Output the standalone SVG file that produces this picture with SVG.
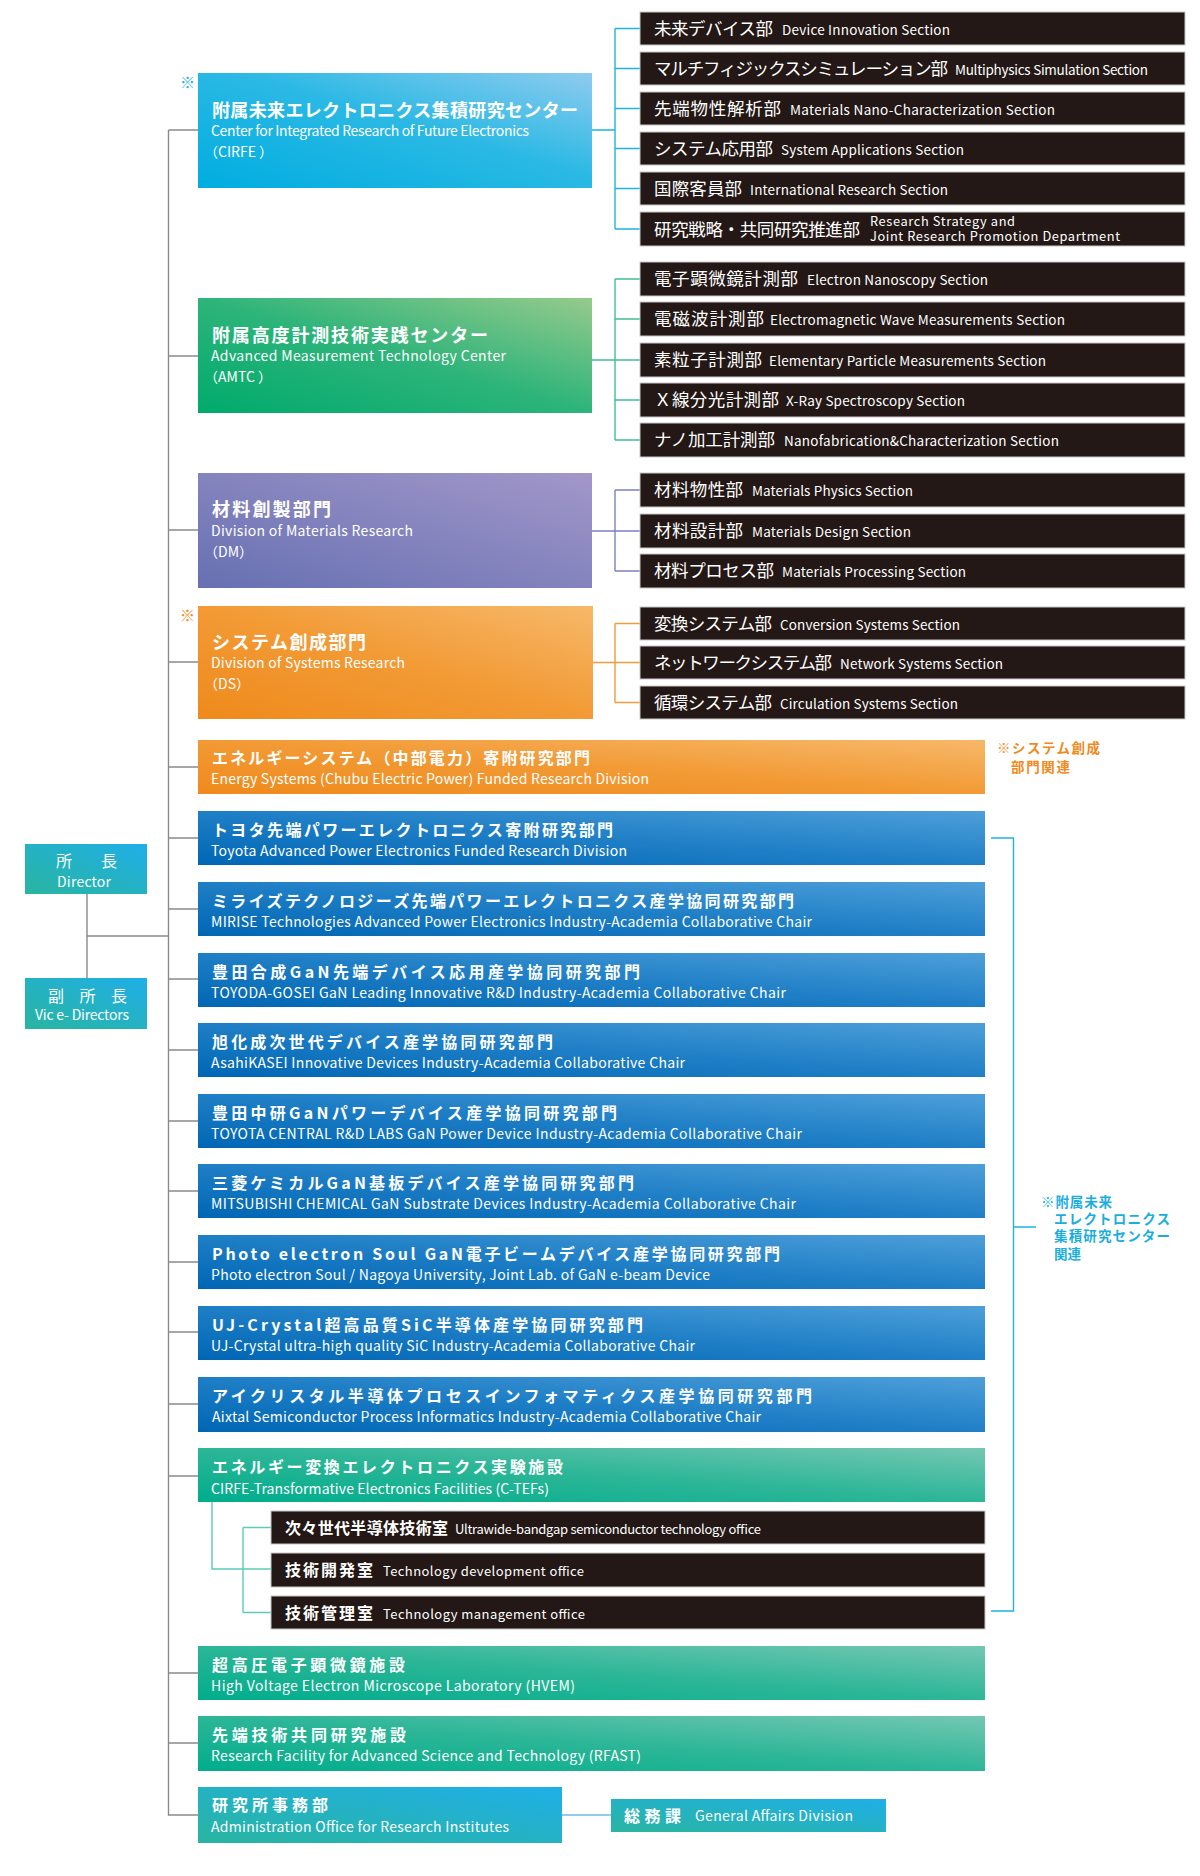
<svg xmlns="http://www.w3.org/2000/svg" width="1200" height="1876" viewBox="0 0 1200 1876">
<defs>
<linearGradient id="gCirfe" x1="0" y1="1" x2="1" y2="0"><stop offset="0" stop-color="#00ade0"/><stop offset="0.55" stop-color="#2bb9e4"/><stop offset="1" stop-color="#8fcbef"/></linearGradient>
<linearGradient id="gAmtc" x1="0" y1="1" x2="1" y2="0"><stop offset="0" stop-color="#00aa6c"/><stop offset="0.5" stop-color="#2db47a"/><stop offset="1" stop-color="#97ca8c"/></linearGradient>
<linearGradient id="gDm" x1="0" y1="1" x2="1" y2="0"><stop offset="0" stop-color="#6670b2"/><stop offset="1" stop-color="#a297c9"/></linearGradient>
<linearGradient id="gDs" x1="0" y1="1" x2="1" y2="0"><stop offset="0" stop-color="#ef8a1c"/><stop offset="0.5" stop-color="#f29a35"/><stop offset="1" stop-color="#f7b869"/></linearGradient>
<linearGradient id="gBlue" x1="0" y1="1" x2="1" y2="0"><stop offset="0" stop-color="#0066b4"/><stop offset="0.5" stop-color="#1f7fc6"/><stop offset="1" stop-color="#4e9fd9"/></linearGradient>
<linearGradient id="gGreen" x1="0" y1="1" x2="1" y2="0"><stop offset="0" stop-color="#00ad8c"/><stop offset="0.5" stop-color="#2cb697"/><stop offset="1" stop-color="#74c7b3"/></linearGradient>
<linearGradient id="gTeal" x1="0" y1="1" x2="1" y2="0"><stop offset="0" stop-color="#29b5a0"/><stop offset="1" stop-color="#1fafe8"/></linearGradient>
</defs>
<style>
text{font-family:"Noto Sans CJK JP","Noto Sans",sans-serif;fill:#fff}
.sec{fill:#231815;stroke:#c8c8c8;stroke-width:1}
.title{font-size:18px;font-weight:700}
.lt{font-size:16px;font-weight:700}
.en{font-size:14px}
.sjp{font-size:17.5px;font-weight:400}
.sen{font-size:13.5px}
.sen2{font-size:12.8px}
.oen{font-size:13px}
.ln{fill:none;stroke-width:1.4}
.gray{stroke:#8a8a8a}
.cy{stroke:#1fb3e4}
.gr{stroke:#40bf90}
.pu{stroke:#7d80c0}
.or{stroke:#f39a3a}
.mint{stroke:#5ccbb8}
.lb{stroke:#6bbde3}
.note{font-size:13.5px;font-weight:700}
.mark{font-size:15px}
</style>

<g id="connectors">
<path class="ln gray" d="M168.5 130 V1815 H198"/>
<path class="ln gray" d="M168.5 130 H198 M168.5 356 H198 M168.5 530 H198 M168.5 662 H198 M168.5 767 H198 M168.5 838 H198 M168.5 909 H198 M168.5 979 H198 M168.5 1050 H198 M168.5 1121 H198 M168.5 1191 H198 M168.5 1262 H198 M168.5 1332 H198 M168.5 1404 H198 M168.5 1476 H198 M168.5 1673 H198 M168.5 1743 H198"/>
<path class="ln gray" d="M87 894 V978 M87 936 H168.5"/>
<path class="ln cy" d="M592 130 H615 M615 28.5 V229 M615 28.5 H640 M615 68.5 H640 M615 108.5 H640 M615 148.5 H640 M615 188.5 H640 M615 229 H640"/>
<path class="ln gr" d="M592 360 H615 M615 279 V440 M615 279 H640 M615 319 H640 M615 360 H640 M615 400 H640 M615 440 H640"/>
<path class="ln pu" d="M592 531 H615 M615 490 V571 M615 490 H640 M615 531 H640 M615 571 H640"/>
<path class="ln or" d="M593 662.5 H615 M615 623.5 V702.5 M615 623.5 H640 M615 662.5 H640 M615 702.5 H640"/>
<path class="ln mint" d="M212 1502 V1569 H271 M243 1527.5 V1612.5 M243 1527.5 H271 M243 1612.5 H271"/>
<path class="ln cy" d="M991 838 H1013.5 V1611 H991 M1013.5 1227 H1036"/>
<path class="ln lb" d="M562 1815 H611"/>
</g>

<g id="director">
<rect x="25" y="844" width="122" height="50" fill="url(#gTeal)"/>
<text x="56" y="867" font-size="16" textLength="61" lengthAdjust="spacing">所　長</text>
<text x="57" y="887" class="en" textLength="54" lengthAdjust="spacing">Director</text>
</g>
<g id="vice-directors">
<rect x="25" y="978" width="122" height="51" fill="url(#gTeal)"/>
<text x="48" y="1002" font-size="16" textLength="79" lengthAdjust="spacing">副 所 長</text>
<text x="35" y="1020" class="en" textLength="94" lengthAdjust="spacing">Vic e- Directors</text>
</g>

<g id="cirfe">
<text x="180" y="88" class="mark" style="fill:#1fb3e4">※</text>
<rect x="198" y="73" width="394" height="115" fill="url(#gCirfe)"/>
<text x="212" y="117" class="title" textLength="366" lengthAdjust="spacing">附属未来エレクトロニクス集積研究センター</text>
<text x="211" y="136" class="en" textLength="318" lengthAdjust="spacing">Center for Integrated Research of Future Electronics</text>
<text x="204" y="157" class="en">（CIRFE ）</text>
</g>
<g id="cirfe-sections">
<rect class="sec" x="640" y="12" width="545" height="33"/>
<text x="654" y="35" class="sjp" textLength="119" lengthAdjust="spacing">未来デバイス部</text>
<text x="782" y="35" class="sen" textLength="168" lengthAdjust="spacing">Device Innovation Section</text>
<rect class="sec" x="640" y="52" width="545" height="33"/>
<text x="654" y="75" class="sjp" textLength="294" lengthAdjust="spacing">マルチフィジックスシミュレーション部</text>
<text x="955" y="75" class="sen" textLength="193" lengthAdjust="spacing">Multiphysics Simulation Section</text>
<rect class="sec" x="640" y="92" width="545" height="33"/>
<text x="654" y="115" class="sjp" textLength="127" lengthAdjust="spacing">先端物性解析部</text>
<text x="790" y="115" class="sen" textLength="265" lengthAdjust="spacing">Materials Nano-Characterization Section</text>
<rect class="sec" x="640" y="132" width="545" height="33"/>
<text x="654" y="155" class="sjp" textLength="119" lengthAdjust="spacing">システム応用部</text>
<text x="781" y="155" class="sen" textLength="183" lengthAdjust="spacing">System Applications Section</text>
<rect class="sec" x="640" y="172" width="545" height="33"/>
<text x="654" y="195" class="sjp" textLength="88" lengthAdjust="spacing">国際客員部</text>
<text x="750" y="195" class="sen" textLength="198" lengthAdjust="spacing">International Research Section</text>
<rect class="sec" x="640" y="212" width="545" height="34"/>
<text x="654" y="236" class="sjp" textLength="206" lengthAdjust="spacing">研究戦略・共同研究推進部</text>
<text x="870" y="226" class="sen2" textLength="145" lengthAdjust="spacing">Research Strategy and</text>
<text x="870" y="241" class="sen2" textLength="250" lengthAdjust="spacing">Joint Research Promotion Department</text>
</g>

<g id="amtc">
<rect x="198" y="298" width="394" height="115" fill="url(#gAmtc)"/>
<text x="212" y="342" class="title" textLength="276" lengthAdjust="spacing">附属高度計測技術実践センター</text>
<text x="211" y="361" class="en" textLength="295" lengthAdjust="spacing">Advanced Measurement Technology Center</text>
<text x="204" y="382" class="en">（AMTC ）</text>
</g>
<g id="amtc-sections">
<rect class="sec" x="640" y="262" width="545" height="34"/>
<text x="654" y="285" class="sjp" textLength="144" lengthAdjust="spacing">電子顕微鏡計測部</text>
<text x="807" y="285" class="sen" textLength="181" lengthAdjust="spacing">Electron Nanoscopy Section</text>
<rect class="sec" x="640" y="302" width="545" height="34"/>
<text x="654" y="325" class="sjp" textLength="110" lengthAdjust="spacing">電磁波計測部</text>
<text x="770" y="325" class="sen" textLength="295" lengthAdjust="spacing">Electromagnetic Wave Measurements Section</text>
<rect class="sec" x="640" y="343" width="545" height="34"/>
<text x="654" y="366" class="sjp" textLength="108" lengthAdjust="spacing">素粒子計測部</text>
<text x="769" y="366" class="sen" textLength="277" lengthAdjust="spacing">Elementary Particle Measurements Section</text>
<rect class="sec" x="640" y="383" width="545" height="34"/>
<text x="654" y="406" class="sjp" textLength="125" lengthAdjust="spacing">Ｘ線分光計測部</text>
<text x="786" y="406" class="sen" textLength="179" lengthAdjust="spacing">X-Ray Spectroscopy Section</text>
<rect class="sec" x="640" y="423" width="545" height="34"/>
<text x="654" y="446" class="sjp" textLength="121" lengthAdjust="spacing">ナノ加工計測部</text>
<text x="784" y="446" class="sen" textLength="275" lengthAdjust="spacing">Nanofabrication&amp;Characterization Section</text>
</g>

<g id="dm">
<rect x="198" y="473" width="394" height="115" fill="url(#gDm)"/>
<text x="212" y="516" class="title" textLength="119" lengthAdjust="spacing">材料創製部門</text>
<text x="211" y="536" class="en" textLength="202" lengthAdjust="spacing">Division of Materials Research</text>
<text x="204" y="557" class="en">（DM）</text>
</g>
<g id="dm-sections">
<rect class="sec" x="640" y="473" width="545" height="34"/>
<text x="654" y="496" class="sjp" textLength="89" lengthAdjust="spacing">材料物性部</text>
<text x="752" y="496" class="sen" textLength="161" lengthAdjust="spacing">Materials Physics Section</text>
<rect class="sec" x="640" y="514" width="545" height="34"/>
<text x="654" y="537" class="sjp" textLength="89" lengthAdjust="spacing">材料設計部</text>
<text x="752" y="537" class="sen" textLength="159" lengthAdjust="spacing">Materials Design Section</text>
<rect class="sec" x="640" y="554" width="545" height="34"/>
<text x="654" y="577" class="sjp" textLength="120" lengthAdjust="spacing">材料プロセス部</text>
<text x="782" y="577" class="sen" textLength="184" lengthAdjust="spacing">Materials Processing Section</text>
</g>

<g id="ds">
<text x="180" y="621" class="mark" style="fill:#f08a1c">※</text>
<rect x="198" y="606" width="395" height="113" fill="url(#gDs)"/>
<text x="212" y="649" class="title" textLength="154" lengthAdjust="spacing">システム創成部門</text>
<text x="211" y="668" class="en" textLength="194" lengthAdjust="spacing">Division of Systems Research</text>
<text x="204" y="689" class="en">（DS）</text>
</g>
<g id="ds-sections">
<rect class="sec" x="640" y="607" width="545" height="33"/>
<text x="654" y="630" class="sjp" textLength="118" lengthAdjust="spacing">変換システム部</text>
<text x="780" y="630" class="sen" textLength="180" lengthAdjust="spacing">Conversion Systems Section</text>
<rect class="sec" x="640" y="646" width="545" height="33"/>
<text x="654" y="669" class="sjp" textLength="178" lengthAdjust="spacing">ネットワークシステム部</text>
<text x="840" y="669" class="sen" textLength="163" lengthAdjust="spacing">Network Systems Section</text>
<rect class="sec" x="640" y="686" width="545" height="33"/>
<text x="654" y="709" class="sjp" textLength="118" lengthAdjust="spacing">循環システム部</text>
<text x="780" y="709" class="sen" textLength="178" lengthAdjust="spacing">Circulation Systems Section</text>
</g>

<g id="energy-systems">
<rect x="198" y="740" width="787" height="54" fill="url(#gDs)"/>
<text x="212" y="764" class="lt" textLength="378" lengthAdjust="spacing">エネルギーシステム（中部電力）寄附研究部門</text>
<text x="211" y="784" class="en" textLength="438" lengthAdjust="spacing">Energy Systems (Chubu Electric Power) Funded Research Division</text>
</g>
<g id="note-ds">
<text x="997" y="753" class="note" style="fill:#f08a1c" textLength="103" lengthAdjust="spacing">※システム創成</text>
<text x="1011" y="772" class="note" style="fill:#f08a1c" textLength="59" lengthAdjust="spacing">部門関連</text>
</g>

<g id="toyota">
<rect x="198" y="811" width="787" height="54" fill="url(#gBlue)"/>
<text x="212" y="836" class="lt" textLength="401" lengthAdjust="spacing">トヨタ先端パワーエレクトロニクス寄附研究部門</text>
<text x="211" y="856" class="en" textLength="416" lengthAdjust="spacing">Toyota Advanced Power Electronics Funded Research Division</text>
</g>
<g id="mirise">
<rect x="198" y="882" width="787" height="54" fill="url(#gBlue)"/>
<text x="212" y="907" class="lt" textLength="582" lengthAdjust="spacing">ミライズテクノロジーズ先端パワーエレクトロニクス産学協同研究部門</text>
<text x="211" y="927" class="en" textLength="601" lengthAdjust="spacing">MIRISE Technologies Advanced Power Electronics Industry-Academia Collaborative Chair</text>
</g>
<g id="toyoda-gosei">
<rect x="198" y="953" width="787" height="54" fill="url(#gBlue)"/>
<text x="212" y="978" class="lt" textLength="428" lengthAdjust="spacing">豊田合成GaN先端デバイス応用産学協同研究部門</text>
<text x="211" y="998" class="en" textLength="575" lengthAdjust="spacing">TOYODA-GOSEI GaN Leading Innovative R&amp;D Industry-Academia Collaborative Chair</text>
</g>
<g id="asahikasei">
<rect x="198" y="1023" width="787" height="54" fill="url(#gBlue)"/>
<text x="212" y="1048" class="lt" textLength="341" lengthAdjust="spacing">旭化成次世代デバイス産学協同研究部門</text>
<text x="211" y="1068" class="en" textLength="474" lengthAdjust="spacing">AsahiKASEI Innovative Devices Industry-Academia Collaborative Chair</text>
</g>
<g id="toyota-central">
<rect x="198" y="1094" width="787" height="54" fill="url(#gBlue)"/>
<text x="212" y="1119" class="lt" textLength="405" lengthAdjust="spacing">豊田中研GaNパワーデバイス産学協同研究部門</text>
<text x="211" y="1139" class="en" textLength="591" lengthAdjust="spacing">TOYOTA CENTRAL R&amp;D LABS GaN Power Device Industry-Academia Collaborative Chair</text>
</g>
<g id="mitsubishi">
<rect x="198" y="1164" width="787" height="54" fill="url(#gBlue)"/>
<text x="212" y="1189" class="lt" textLength="422" lengthAdjust="spacing">三菱ケミカルGaN基板デバイス産学協同研究部門</text>
<text x="211" y="1209" class="en" textLength="585" lengthAdjust="spacing">MITSUBISHI CHEMICAL GaN Substrate Devices Industry-Academia Collaborative Chair</text>
</g>
<g id="photo-electron">
<rect x="198" y="1235" width="787" height="54" fill="url(#gBlue)"/>
<text x="212" y="1260" class="lt" textLength="568" lengthAdjust="spacing">Photo electron Soul GaN電子ビームデバイス産学協同研究部門</text>
<text x="211" y="1280" class="en" textLength="499" lengthAdjust="spacing">Photo electron Soul / Nagoya University, Joint Lab. of GaN e-beam Device</text>
</g>
<g id="uj-crystal">
<rect x="198" y="1306" width="787" height="54" fill="url(#gBlue)"/>
<text x="212" y="1331" class="lt" textLength="431" lengthAdjust="spacing">UJ-Crystal超高品質SiC半導体産学協同研究部門</text>
<text x="211" y="1351" class="en" textLength="484" lengthAdjust="spacing">UJ-Crystal ultra-high quality SiC Industry-Academia Collaborative Chair</text>
</g>
<g id="aixtal">
<rect x="198" y="1377" width="787" height="55" fill="url(#gBlue)"/>
<text x="212" y="1402" class="lt" textLength="600" lengthAdjust="spacing">アイクリスタル半導体プロセスインフォマティクス産学協同研究部門</text>
<text x="212" y="1422" class="en" textLength="549" lengthAdjust="spacing">Aixtal Semiconductor Process Informatics Industry-Academia Collaborative Chair</text>
</g>
<g id="note-cirfe">
<text x="1041" y="1207" class="note" style="fill:#1aaee0" textLength="71" lengthAdjust="spacing">※附属未来</text>
<text x="1054" y="1224" class="note" style="fill:#1aaee0" textLength="116" lengthAdjust="spacing">エレクトロニクス</text>
<text x="1054" y="1241" class="note" style="fill:#1aaee0" textLength="116" lengthAdjust="spacing">集積研究センター</text>
<text x="1054" y="1259" class="note" style="fill:#1aaee0" textLength="27" lengthAdjust="spacing">関連</text>
</g>

<g id="c-tefs">
<rect x="198" y="1448" width="787" height="54" fill="url(#gGreen)"/>
<text x="212" y="1473" class="lt" textLength="351" lengthAdjust="spacing">エネルギー変換エレクトロニクス実験施設</text>
<text x="211" y="1494" class="en" textLength="338" lengthAdjust="spacing">CIRFE-Transformative Electronics Facilities (C-TEFs)</text>
</g>
<g id="c-tefs-offices">
<rect class="sec" x="271" y="1511" width="714" height="33"/>
<text x="285" y="1534" class="lt" textLength="163" lengthAdjust="spacing">次々世代半導体技術室</text>
<text x="455" y="1534" class="oen" textLength="306" lengthAdjust="spacing">Ultrawide-bandgap semiconductor technology office</text>
<rect class="sec" x="271" y="1553" width="714" height="34"/>
<text x="285" y="1576" class="lt" textLength="88" lengthAdjust="spacing">技術開発室</text>
<text x="383" y="1576" class="oen" textLength="201" lengthAdjust="spacing">Technology development office</text>
<rect class="sec" x="271" y="1596" width="714" height="33"/>
<text x="285" y="1619" class="lt" textLength="88" lengthAdjust="spacing">技術管理室</text>
<text x="383" y="1619" class="oen" textLength="202" lengthAdjust="spacing">Technology management office</text>
</g>

<g id="hvem">
<rect x="198" y="1646" width="787" height="54" fill="url(#gGreen)"/>
<text x="212" y="1671" class="lt" textLength="193" lengthAdjust="spacing">超高圧電子顕微鏡施設</text>
<text x="211" y="1691" class="en" textLength="364" lengthAdjust="spacing">High Voltage Electron Microscope Laboratory (HVEM)</text>
</g>
<g id="rfast">
<rect x="198" y="1716" width="787" height="55" fill="url(#gGreen)"/>
<text x="212" y="1741" class="lt" textLength="194" lengthAdjust="spacing">先端技術共同研究施設</text>
<text x="211" y="1761" class="en" textLength="430" lengthAdjust="spacing">Research Facility for Advanced Science and Technology (RFAST)</text>
</g>
<g id="admin">
<rect x="198" y="1787" width="364" height="56" fill="url(#gTeal)"/>
<text x="212" y="1811" class="lt" textLength="116" lengthAdjust="spacing">研究所事務部</text>
<text x="211" y="1832" class="en" textLength="298" lengthAdjust="spacing">Administration Office for Research Institutes</text>
</g>
<g id="general-affairs">
<rect x="611" y="1799" width="275" height="33" fill="url(#gTeal)"/>
<text x="624" y="1822" class="lt" textLength="57" lengthAdjust="spacing">総務課</text>
<text x="695" y="1821" class="en" textLength="158" lengthAdjust="spacing">General Affairs Division</text>
</g>
</svg>
